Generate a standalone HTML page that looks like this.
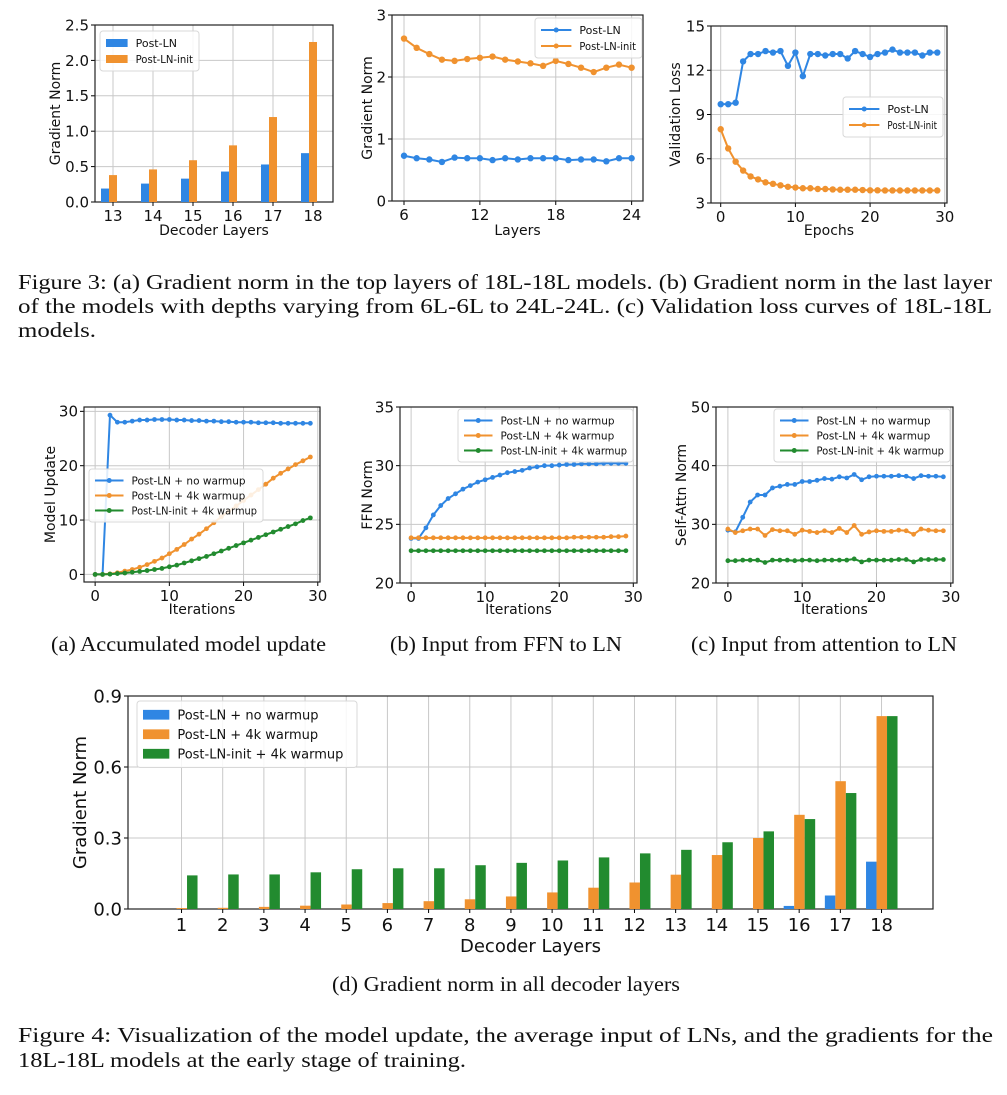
<!DOCTYPE html>
<html><head><meta charset="utf-8"><style>
html,body{margin:0;padding:0;background:#fff;}
svg{display:block;}
text{font-family:"DejaVu Sans","Liberation Sans",sans-serif;}
.cap{font-family:"Liberation Serif",serif;font-size:21px;fill:#111;}
</style></head><body>
<svg id="svg" xmlns="http://www.w3.org/2000/svg" width="1007" height="1095" viewBox="0 0 1007 1095">
<text class="cap" x="18" y="289" textLength="974" lengthAdjust="spacingAndGlyphs">Figure 3: (a) Gradient norm in the top layers of 18L-18L models. (b) Gradient norm in the last layer</text>
<text class="cap" x="18" y="313" textLength="974" lengthAdjust="spacingAndGlyphs">of the models with depths varying from 6L-6L to 24L-24L. (c) Validation loss curves of 18L-18L</text>
<text class="cap" x="18" y="337" textLength="78" lengthAdjust="spacingAndGlyphs">models.</text>
<text class="cap" x="51" y="651" textLength="275" lengthAdjust="spacingAndGlyphs">(a) Accumulated model update</text>
<text class="cap" x="390" y="651" textLength="232" lengthAdjust="spacingAndGlyphs">(b) Input from FFN to LN</text>
<text class="cap" x="691" y="651" textLength="266" lengthAdjust="spacingAndGlyphs">(c) Input from attention to LN</text>
<text class="cap" x="332" y="991" textLength="348" lengthAdjust="spacingAndGlyphs">(d) Gradient norm in all decoder layers</text>
<text class="cap" x="18" y="1042" textLength="975" lengthAdjust="spacingAndGlyphs">Figure 4: Visualization of the model update, the average input of LNs, and the gradients for the</text>
<text class="cap" x="18" y="1067" textLength="448" lengthAdjust="spacingAndGlyphs">18L-18L models at the early stage of training.</text>
</svg>
<script>
// ---- data ----
const topBarLayers = [13,14,15,16,17,18];
const topBarPostLN = [0.19,0.26,0.33,0.43,0.53,0.69];
const topBarPostLNInit = [0.38,0.46,0.59,0.80,1.20,2.26];
const depthLayers = [6,7,8,9,10,11,12,13,14,15,16,17,18,19,20,21,22,23,24];
const depthPostLN = [0.73,0.69,0.67,0.63,0.70,0.69,0.69,0.66,0.69,0.67,0.69,0.69,0.69,0.66,0.67,0.67,0.64,0.69,0.69];
const depthPostLNInit = [2.62,2.47,2.37,2.28,2.26,2.29,2.31,2.33,2.28,2.25,2.22,2.18,2.26,2.21,2.15,2.08,2.15,2.20,2.15];
const epochs = [0,1,2,3,4,5,6,7,8,9,10,11,12,13,14,15,16,17,18,19,20,21,22,23,24,25,26,27,28,29];
const valPostLN = [9.7,9.7,9.8,12.6,13.1,13.1,13.3,13.2,13.3,12.3,13.2,11.6,13.1,13.1,13.0,13.1,13.1,12.8,13.3,13.1,12.9,13.1,13.2,13.4,13.2,13.2,13.2,13.0,13.2,13.2];
const valPostLNInit = [8.0,6.7,5.8,5.2,4.8,4.6,4.4,4.3,4.2,4.1,4.05,4.0,4.0,3.95,3.95,3.92,3.9,3.9,3.9,3.88,3.86,3.86,3.85,3.85,3.85,3.85,3.85,3.85,3.85,3.85];
const iters = [0,1,2,3,4,5,6,7,8,9,10,11,12,13,14,15,16,17,18,19,20,21,22,23,24,25,26,27,28,29];
const updNoWarm = [0,0,29.3,28,28,28.2,28.4,28.4,28.5,28.5,28.5,28.4,28.4,28.3,28.3,28.2,28.2,28.1,28.1,28,28,28,27.9,27.9,27.9,27.8,27.8,27.8,27.8,27.8];
const upd4k = [0,0,0.1,0.3,0.6,0.9,1.3,1.8,2.4,3.0,3.8,4.6,5.5,6.5,7.4,8.4,9.5,10.6,11.6,12.6,13.6,14.6,15.6,16.6,17.7,18.6,19.4,20.2,20.9,21.6];
const updInit4k = [0,0,0.05,0.15,0.25,0.4,0.55,0.7,0.9,1.1,1.4,1.7,2.1,2.5,2.9,3.3,3.8,4.3,4.8,5.3,5.8,6.3,6.8,7.3,7.8,8.3,8.8,9.3,9.9,10.4];
const ffnNoWarm = [23.8,23.8,24.7,25.8,26.6,27.2,27.6,28,28.3,28.6,28.8,29,29.2,29.4,29.5,29.6,29.8,29.9,30,30,30.05,30.1,30.1,30.15,30.15,30.15,30.2,30.2,30.2,30.2];
const ffn4k = [23.85,23.85,23.85,23.85,23.85,23.85,23.85,23.85,23.85,23.85,23.85,23.85,23.85,23.85,23.85,23.85,23.85,23.85,23.85,23.85,23.85,23.85,23.9,23.9,23.9,23.9,23.9,23.95,23.95,24.0];
const ffnInit4k = [22.75,22.75,22.75,22.75,22.75,22.75,22.75,22.75,22.75,22.75,22.75,22.75,22.75,22.75,22.75,22.75,22.75,22.75,22.75,22.75,22.75,22.75,22.75,22.75,22.75,22.75,22.75,22.75,22.75,22.75];
const attNoWarm = [29,28.7,31.2,33.8,35,35,36.2,36.5,36.8,36.8,37.3,37.3,37.5,37.8,37.7,38.1,37.9,38.5,37.6,38.1,38.2,38.2,38.2,38.3,38.2,37.8,38.3,38.2,38.2,38.1];
const att4k = [29.2,28.6,28.9,29.2,29.2,28.1,29.1,28.9,28.9,28.3,29,28.8,28.6,28.9,28.6,29.3,28.6,29.8,28.3,28.7,28.9,28.8,28.8,29,28.9,28.3,29.2,29,28.9,28.9];
const attInit4k = [23.8,23.8,23.9,23.9,23.9,23.5,23.9,23.9,23.9,23.8,23.9,23.9,23.8,23.9,23.9,23.9,23.9,24.1,23.6,23.9,23.9,23.9,23.9,24,24,23.6,24,24,24,24];
const allLayers = [1,2,3,4,5,6,7,8,9,10,11,12,13,14,15,16,17,18];
const allNoWarm = [0,0,0,0,0,0,0,0,0,0,0,0,0,0,0,0.013,0.057,0.2];
const all4k = [0.004,0.005,0.009,0.014,0.019,0.025,0.033,0.041,0.053,0.07,0.09,0.112,0.145,0.228,0.3,0.398,0.54,0.815];
const allInit4k = [0.142,0.146,0.146,0.155,0.168,0.172,0.172,0.185,0.195,0.205,0.218,0.235,0.25,0.282,0.328,0.38,0.49,0.815];

const BLUE='#2f86e3', ORANGE='#f0922f', GREEN='#228b2f';
const ns='http://www.w3.org/2000/svg';
const S=document.getElementById('svg');
function el(tag,a,p){const e=document.createElementNS(ns,tag);for(const k in a)e.setAttribute(k,a[k]);(p||S).appendChild(e);return e;}

function axes(o){
  const g=el('g',{});
  
  
  const sx=v=>o.L+(v-o.x0)/(o.x1-o.x0)*(o.R-o.L);
  const sy=v=>o.B-(v-o.y0)/(o.y1-o.y0)*(o.B-o.T);
  o.xt.forEach((t,i)=>{const x=sx(t);
    const gl=el('line',{x1:x,x2:x,y1:o.T,y2:o.B,stroke:'#c8c8c8','stroke-width':1},g);
    
    
    const tk=el('line',{x1:x,x2:x,y1:o.B,y2:o.B+4,stroke:'#000','stroke-width':1},g);
    
    
    const tx=el('text',{x:x,y:o.B+4+o.fs,'font-size':o.fs,'text-anchor':'middle',fill:'#111'},g);
    
    
    tx.textContent=o.xl[i];});
  o.yt.forEach((t,i)=>{const y=sy(t);
    const gl=el('line',{x1:o.L,x2:o.R,y1:y,y2:y,stroke:'#c8c8c8','stroke-width':1},g);
    
    
    const tk=el('line',{x1:o.L-4,x2:o.L,y1:y,y2:y,stroke:'#000','stroke-width':1},g);
    
    
    const tx=el('text',{x:o.L-6,y:y+o.fs*0.36,'font-size':o.fs,'text-anchor':'end',fill:'#111'},g);
    
    
    tx.textContent=o.yl[i];});
  const fr=el('rect',{x:o.L,y:o.T,width:o.R-o.L,height:o.B-o.T,fill:'none',stroke:'#222','stroke-width':1.2},g);
  
  
  const xt=el('text',{x:(o.L+o.R)/2,y:o.xty,'font-size':o.tfs,'text-anchor':'middle',fill:'#111'},g);
  
  
  xt.textContent=o.xtitle;
  const yt=el('text',{x:0,y:0,'font-size':o.tfs,'text-anchor':'middle',fill:'#111',transform:`translate(${o.ytx},${(o.T+o.B)/2}) rotate(-90)`},g);
  
  
  yt.textContent=o.ytitle;
  return {g,sx,sy};
}
function series(ax,xs,ys,color,r,name){
  const pts=xs.map((x,i)=>ax.sx(x)+','+ax.sy(ys[i])).join(' ');
  const pl=el('polyline',{points:pts,fill:'none',stroke:color,'stroke-width':2},ax.g);
  
  
  xs.forEach((x,i)=>{const c=el('circle',{cx:ax.sx(x),cy:ax.sy(ys[i]),r:r,fill:color},ax.g);
    
    });
}
function legend(g,x,y,w,rowH,items,fs,type,name){
  const h=items.length*rowH+8;
  const b=el('rect',{x:x,y:y,width:w,height:h,rx:3,fill:'#fff','fill-opacity':0.85,stroke:'#d8d8d8'},g);
  
  
  items.forEach((it,i)=>{const cy=y+4+rowH*(i+0.5);
    if(type==='bar'){const r=el('rect',{x:x+6,y:cy-rowH*0.25,width:rowH*1.35,height:rowH*0.5,fill:it[1]},g);
      
      }
    else{const l=el('line',{x1:x+6,x2:x+6+rowH*1.9,y1:cy,y2:cy,stroke:it[1],'stroke-width':2},g);
      
      
      const c=el('circle',{cx:x+6+rowH*0.95,cy:cy,r:2.5,fill:it[1]},g);
      
      }
    const tx0=x+6+(type==='bar'?rowH*1.35:rowH*1.9)+8;
    const t=el('text',{x:tx0,y:cy+fs*0.36,'font-size':fs,fill:'#111'},g);
    
    
    t.textContent=it[0];
    const maxW=x+w-6-tx0;
    if(t.getComputedTextLength()>maxW){t.setAttribute('textLength',maxW);t.setAttribute('lengthAdjust','spacingAndGlyphs');}
  });
}
function bars(ax,cats,vals,off,w,color,name){
  cats.forEach((c,i)=>{const x=ax.sx(c)+off;const y=ax.sy(vals[i]);
    const r=el('rect',{x:x,y:y,width:w,height:ax.sy(0)-y,fill:color},ax.g);
    
    });
}

// Fig 3a
let a=axes({name:'chart-3a-grad-norm-bars',L:95,R:333,T:25,B:202,x0:12.55,x1:18.5,y0:0,y1:2.5,
  xt:topBarLayers,xl:topBarLayers,yt:[0,0.5,1,1.5,2,2.5],yl:['0.0','0.5','1.0','1.5','2.0','2.5'],fs:15,tfs:14,
  xtitle:'Decoder Layers',ytitle:'Gradient Norm',xty:235,ytx:60});
bars(a,topBarLayers,topBarPostLN,-12,8,BLUE,'bar-post-ln');
bars(a,topBarLayers,topBarPostLNInit,-4,8,ORANGE,'bar-post-ln-init');
legend(a.g,100,31,99,16,[['Post-LN',BLUE],['Post-LN-init',ORANGE]],11,'bar','legend-3a');

// Fig 3b
a=axes({name:'chart-3b-depth-grad-norm',L:392,R:643,T:15,B:201,x0:5.05,x1:24.9,y0:0,y1:3,
  xt:[6,12,18,24],xl:['6','12','18','24'],yt:[0,1,2,3],yl:['0','1','2','3'],fs:15,tfs:14,
  xtitle:'Layers',ytitle:'Gradient Norm',xty:235,ytx:372});
series(a,depthLayers,depthPostLN,BLUE,3.2,'post-ln');
series(a,depthLayers,depthPostLNInit,ORANGE,3.2,'post-ln-init');
legend(a.g,535,18,107,16,[['Post-LN',BLUE],['Post-LN-init',ORANGE]],11,'line','legend-3b');

// Fig 3c
a=axes({name:'chart-3c-validation-loss',L:711,R:947,T:26,B:203,x0:-1.3,x1:30.3,y0:3,y1:15,
  xt:[0,10,20,30],xl:['0','10','20','30'],yt:[3,6,9,12,15],yl:['3','6','9','12','15'],fs:15,tfs:14,
  xtitle:'Epochs',ytitle:'Validation Loss',xty:235,ytx:680});
series(a,epochs,valPostLN,BLUE,3.2,'post-ln');
series(a,epochs,valPostLNInit,ORANGE,3.2,'post-ln-init');
legend(a.g,843,97,100,16,[['Post-LN',BLUE],['Post-LN-init',ORANGE]],11,'line','legend-3c');

const L3=[['Post-LN + no warmup',BLUE],['Post-LN + 4k warmup',ORANGE],['Post-LN-init + 4k warmup',GREEN]];
// Fig 4a
a=axes({name:'chart-4a-model-update',L:84,R:320,T:407,B:582,x0:-1.5,x1:30.3,y0:-1.4,y1:30.8,
  xt:[0,10,20,30],xl:['0','10','20','30'],yt:[0,10,20,30],yl:['0','10','20','30'],fs:15,tfs:14,
  xtitle:'Iterations',ytitle:'Model Update',xty:614,ytx:55});
series(a,iters,updNoWarm,BLUE,2.4,'post-ln-no-warmup');
series(a,iters,upd4k,ORANGE,2.4,'post-ln-4k-warmup');
series(a,iters,updInit4k,GREEN,2.4,'post-ln-init-4k-warmup');
legend(a.g,89,469,174,15,L3,10.5,'line','legend-4a');

// Fig 4b
a=axes({name:'chart-4b-ffn-norm',L:400,R:637,T:407,B:583,x0:-1.5,x1:30.5,y0:20,y1:35,
  xt:[0,10,20,30],xl:['0','10','20','30'],yt:[20,25,30,35],yl:['20','25','30','35'],fs:15,tfs:14,
  xtitle:'Iterations',ytitle:'FFN Norm',xty:614,ytx:372});
series(a,iters,ffnNoWarm,BLUE,2.4,'post-ln-no-warmup');
series(a,iters,ffn4k,ORANGE,2.4,'post-ln-4k-warmup');
series(a,iters,ffnInit4k,GREEN,2.4,'post-ln-init-4k-warmup');
legend(a.g,458,409,175,15,L3,10.5,'line','legend-4b');

// Fig 4c
a=axes({name:'chart-4c-self-attn-norm',L:716,R:953,T:407,B:583,x0:-1.6,x1:30.3,y0:20,y1:50,
  xt:[0,10,20,30],xl:['0','10','20','30'],yt:[20,30,40,50],yl:['20','30','40','50'],fs:15,tfs:14,
  xtitle:'Iterations',ytitle:'Self-Attn Norm',xty:614,ytx:686});
series(a,iters,attNoWarm,BLUE,2.4,'post-ln-no-warmup');
series(a,iters,att4k,ORANGE,2.4,'post-ln-4k-warmup');
series(a,iters,attInit4k,GREEN,2.4,'post-ln-init-4k-warmup');
legend(a.g,774,409,176,15,L3,10.5,'line','legend-4c');

// Fig 4d
a=axes({name:'chart-4d-all-layers-grad-norm',L:128,R:933,T:696,B:909,x0:-0.3,x1:19.25,y0:0,y1:0.9,
  xt:allLayers,xl:allLayers,yt:[0,0.3,0.6,0.9],yl:['0.0','0.3','0.6','0.9'],fs:18,tfs:18,
  xtitle:'Decoder Layers',ytitle:'Gradient Norm',xty:952,ytx:86});
bars(a,allLayers,allNoWarm,-15.5,10.5,BLUE,'bar-post-ln-no-warmup');
bars(a,allLayers,all4k,-5,10.5,ORANGE,'bar-post-ln-4k-warmup');
bars(a,allLayers,allInit4k,5.5,10.5,GREEN,'bar-post-ln-init-4k-warmup');
legend(a.g,137,701,220,19.5,L3,13,'bar','legend-4d');
</script>
</body></html>
